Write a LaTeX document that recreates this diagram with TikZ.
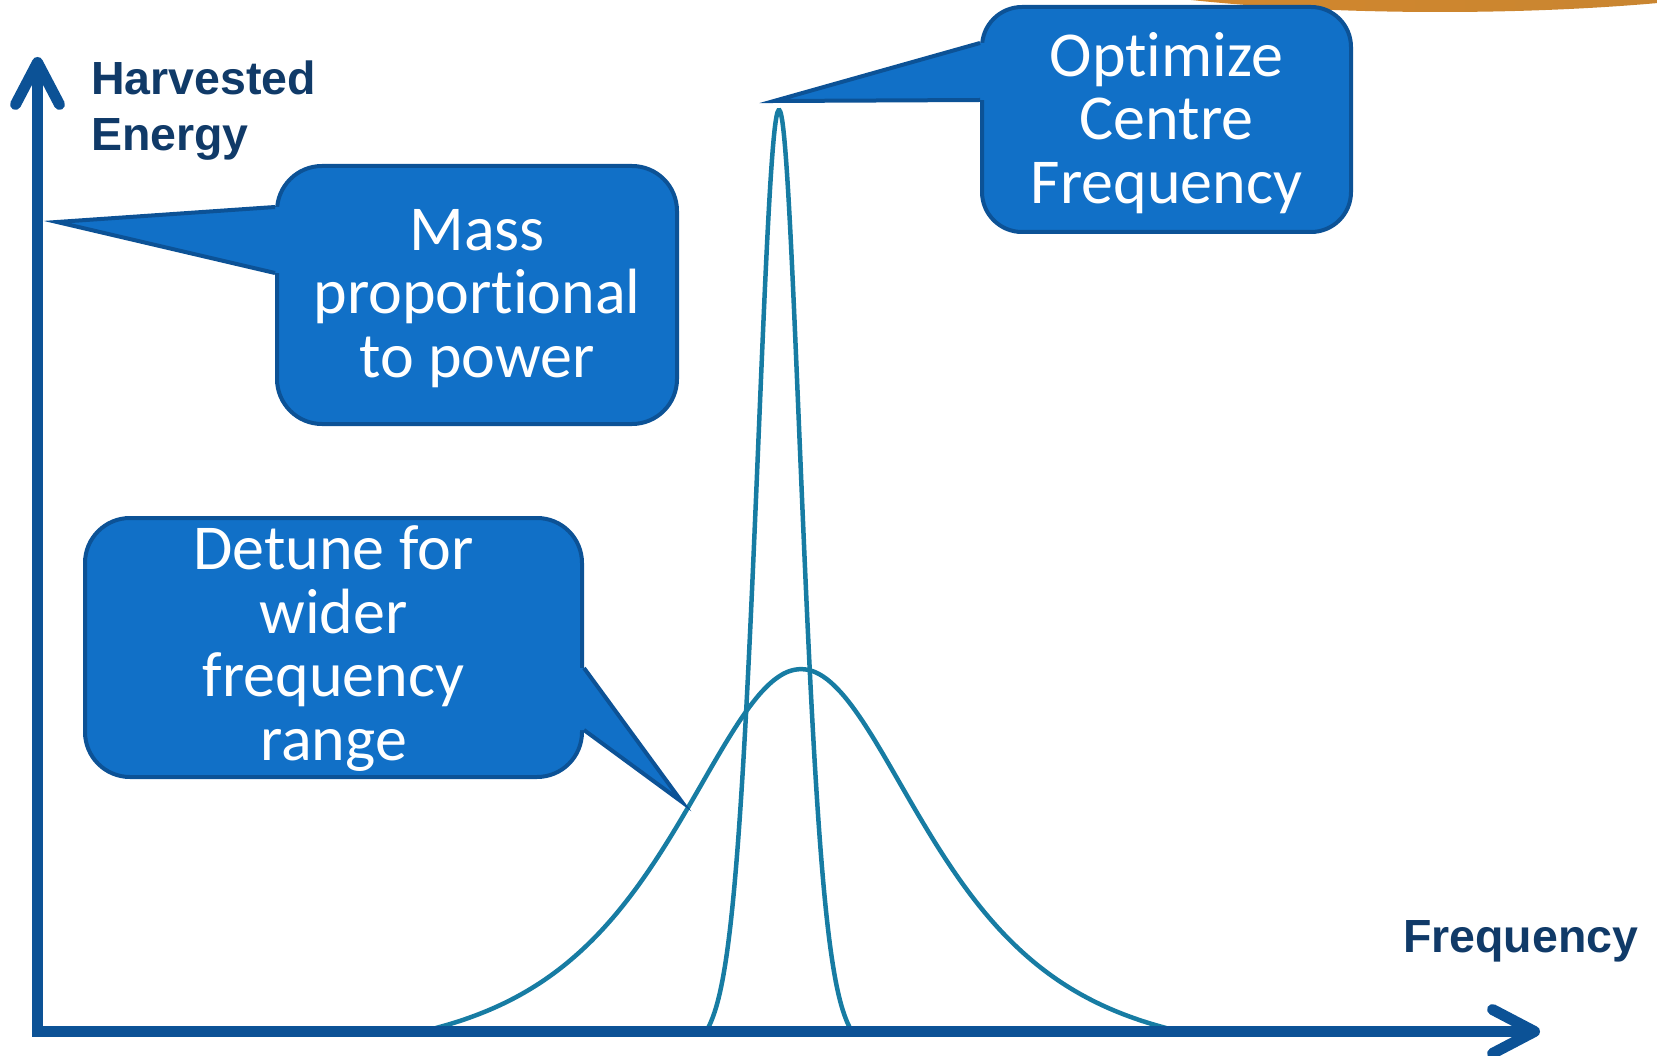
\documentclass[tikz,border=0pt]{standalone}
\usepackage{fontspec}
\setmainfont{Carlito}[Ligatures=NoCommon]
\newfontfamily\axisfont{Liberation Sans}
\usetikzlibrary{arrows.meta, calc, positioning}
\definecolor{axisblue}{RGB}{12,82,150}
\definecolor{labelnavy}{RGB}{16,58,104}
\definecolor{bubbleblue}{RGB}{17,112,199}
\definecolor{respteal}{RGB}{23,124,163}
\definecolor{sunorange}{RGB}{214,136,44}
\definecolor{sunbrown}{RGB}{196,132,50}

\begin{document}
\begin{tikzpicture}[
    x=1pt, y=-1pt,
    bubble/.style={rectangle, draw=axisblue, fill=bubbleblue, line width=4pt, rounded corners=45pt, inner sep=0pt, align=center, text=white, text depth=4pt, font=\fontsize{64}{63.5}\selectfont},
    bubbletail/.style={draw=axisblue, line width=4pt, line join=miter},
    axisline/.style={draw=axisblue, line width=11pt, {Straight Barb[length=42pt, width=44pt, round]}-{Straight Barb[length=42pt, width=44pt, round]}},
    resp/.style={draw=respteal, line width=4.5pt, samples=150, smooth},
    lbl/.style={font=\axisfont\bfseries\fontsize{46.5}{56}\selectfont, text=labelnavy, align=left, inner sep=0pt}
]
\useasboundingbox (0,0) rectangle (1657,1056);

\begin{scope}
  \clip (0,0) rectangle (1657,1056);
  \shade[left color=sunorange, right color=sunbrown] (1440,-60) ellipse (450 and 72);
\end{scope}

\draw[resp] plot[domain=-3.26:3.26] ({801+112*\x}, {1028-359*(1/cosh(\x)-0.0767)/0.9233});
\draw[resp] plot[domain=-3.55:3.55] ({779+20*\x}, {1028-918*((exp(-0.378*\x*\x)+1/cosh(\x))/2-0.033)/0.967});

\coordinate (ytop) at (37.5,57);
\coordinate (origin) at (37.5,1031.5);
\coordinate (xend) at (1540,1031.5);
\draw[axisline] (ytop) -- (origin) -- (xend);

\node[lbl, anchor=base west] (ylabel) at (91,151) {Harvested\\Energy};
\node[lbl, anchor=base west] (xlabel) at (1403,952) {Frequency};

\node[bubble, minimum width=400pt, minimum height=258pt] (mass) at (477,295) {Mass\\proportional\\to power};
\node[bubble, rounded corners=40pt, minimum width=369pt, minimum height=225pt] (centre) at (1166.5,119.5) {Optimize\\Centre\\Frequency};
\node[bubble, text depth=9pt, minimum width=497pt, minimum height=259pt] (detune) at (333.5,647.5) {Detune for\\wider\\frequency\\range};

\coordinate (masspt) at (57,222);
\coordinate (centrept) at (774,101);
\coordinate (detunept) at (682,802);

\fill[bubbleblue] ($(mass.north west)+(0,43)$) -- (masspt) -- ($(mass.north west)+(0,109)$) -- ++(8,0) -- ++(0,-66) -- cycle;
\draw[bubbletail] ($(mass.north west)+(0,43)$) -- (masspt) -- ($(mass.north west)+(0,109)$);

\fill[bubbleblue] ($(centre.north west)+(0,38)$) -- (centrept) -- ($(centre.north west)+(0,95)$) -- ++(8,0) -- ++(0,-57) -- cycle;
\draw[bubbletail] ($(centre.north west)+(0,38)$) -- (centrept) -- ($(centre.north west)+(0,95)$);

\fill[bubbleblue] ($(detune.north east)+(0,152)$) -- (detunept) -- ($(detune.north east)+(0,214)$) -- ++(-8,0) -- ++(0,-62) -- cycle;
\draw[bubbletail] ($(detune.north east)+(0,152)$) -- (detunept) -- ($(detune.north east)+(0,214)$);

\end{tikzpicture}
\end{document}
